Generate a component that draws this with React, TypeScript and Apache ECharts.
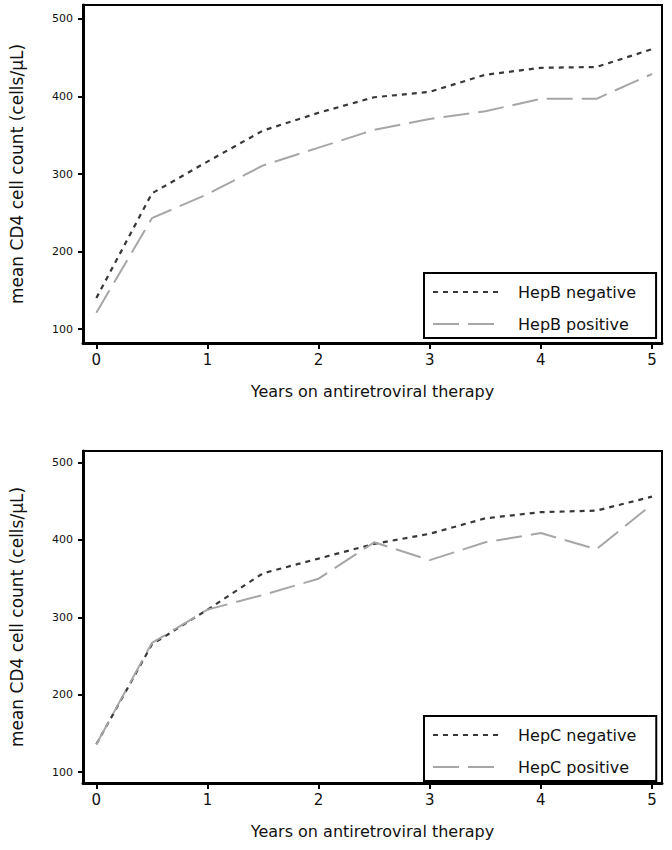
import React, { useEffect, useRef } from "react";
import * as echarts from "echarts";

const years = [0, 0.5, 1, 1.5, 2, 2.5, 3, 3.5, 4, 4.5, 5];
const hepBNegative = [140, 275, 316, 356, 379, 399, 406, 428, 437, 438, 461];
const hepBPositive = [121, 243, 274, 311, 334, 357, 371, 381, 397, 397, 429];
const hepCNegative = [136, 265, 310, 357, 376, 395, 408, 428, 436, 438, 456];
const hepCPositive = [136, 267, 310, 329, 350, 397, 374, 397, 409, 388, 446];
const xTicks = [0, 1, 2, 3, 4, 5];
const yTicks = [100, 200, 300, 400, 500];
const xTitle = "Years on antiretroviral therapy";
const yTitle = "mean CD4 cell count (cells/µL)";
const legendTop = ["HepB negative", "HepB positive"];
const legendBottom = ["HepC negative", "HepC positive"];

const FONT = "DejaVu Sans";
const NEG_COLOR = "#383838";
const POS_COLOR = "#a6a6a6";

function pairs(vals: number[]) {
  return years.map((x, i) => [x, vals[i]]);
}

function xAxisFor(gridIndex: number) {
  return {
    type: "value",
    gridIndex,
    min: -0.12,
    max: 5.09,
    name: xTitle,
    nameLocation: "middle",
    nameGap: 40,
    nameTextStyle: { fontFamily: FONT, fontSize: 16, color: "#111" },
    axisLine: { show: true, onZero: false, lineStyle: { color: "#000", width: 3 } },
    axisTick: { show: true, customValues: xTicks, length: 6, lineStyle: { color: "#000", width: 2 } },
    axisLabel: { customValues: xTicks, fontFamily: FONT, fontSize: 15, color: "#111", margin: 9 },
    splitLine: { show: false },
  };
}

function yAxisFor(gridIndex: number, min: number, max: number) {
  return {
    type: "value",
    gridIndex,
    min,
    max,
    name: yTitle,
    nameLocation: "middle",
    nameGap: 58,
    nameTextStyle: { fontFamily: FONT, fontSize: 17, color: "#111", padding: [0, 0, 0, 0] },
    axisLine: { show: true, onZero: false, lineStyle: { color: "#000", width: 3 } },
    axisTick: { show: true, customValues: yTicks, length: 5, lineStyle: { color: "#000", width: 2 } },
    axisLabel: { customValues: yTicks, fontFamily: FONT, fontSize: 11, color: "#111", margin: 10 },
    splitLine: { show: false },
  };
}

function legendFor(names: string[], top: number) {
  return {
    data: names,
    orient: "vertical",
    left: 424,
    top,
    itemWidth: 70,
    itemHeight: 14,
    itemGap: 16,
    padding: [11, 20, 6, 8],
    borderColor: "#000",
    borderWidth: 2,
    backgroundColor: "#fff",
    itemStyle: { color: "transparent", borderWidth: 0, opacity: 0 },
    textStyle: { fontFamily: FONT, fontSize: 16, color: "#111", padding: [0, 0, 0, 10] },
  };
}

function lineSeries(name: string, vals: number[], idx: number, neg: boolean) {
  return {
    name,
    type: "line",
    xAxisIndex: idx,
    yAxisIndex: idx,
    data: pairs(vals),
    symbol: "none",
    lineStyle: neg
      ? { color: NEG_COLOR, width: 2.2, type: [5, 5] }
      : { color: POS_COLOR, width: 2, type: [26, 9] },
    itemStyle: { color: neg ? NEG_COLOR : POS_COLOR },
  };
}

export default function App() {
  const ref = useRef<HTMLDivElement>(null);
  useEffect(() => {
    if (!ref.current) return;
    const chart = echarts.init(ref.current, null, { renderer: "svg" });
    chart.setOption({
      animation: false,
      backgroundColor: "#fff",
      grid: [
        { left: 82, top: 5, width: 580, height: 338, show: true, borderColor: "#000", borderWidth: 2, backgroundColor: "#fff" },
        { left: 82, top: 451, width: 580, height: 332, show: true, borderColor: "#000", borderWidth: 2, backgroundColor: "#fff" },
      ],
      xAxis: [xAxisFor(0), xAxisFor(1)],
      yAxis: [yAxisFor(0, 82, 518), yAxisFor(1, 86, 515)],
      legend: [legendFor(legendTop, 273), legendFor(legendBottom, 716)],
      series: [
        lineSeries(legendTop[0], hepBNegative, 0, true),
        lineSeries(legendTop[1], hepBPositive, 0, false),
        lineSeries(legendBottom[0], hepCNegative, 1, true),
        lineSeries(legendBottom[1], hepCPositive, 1, false),
      ],
    });
    return () => chart.dispose();
  }, []);
  return (
    <div
      ref={ref}
      style={{ position: "absolute", left: 0, top: 0, width: 672, height: 850 }}
    />
  );
}
